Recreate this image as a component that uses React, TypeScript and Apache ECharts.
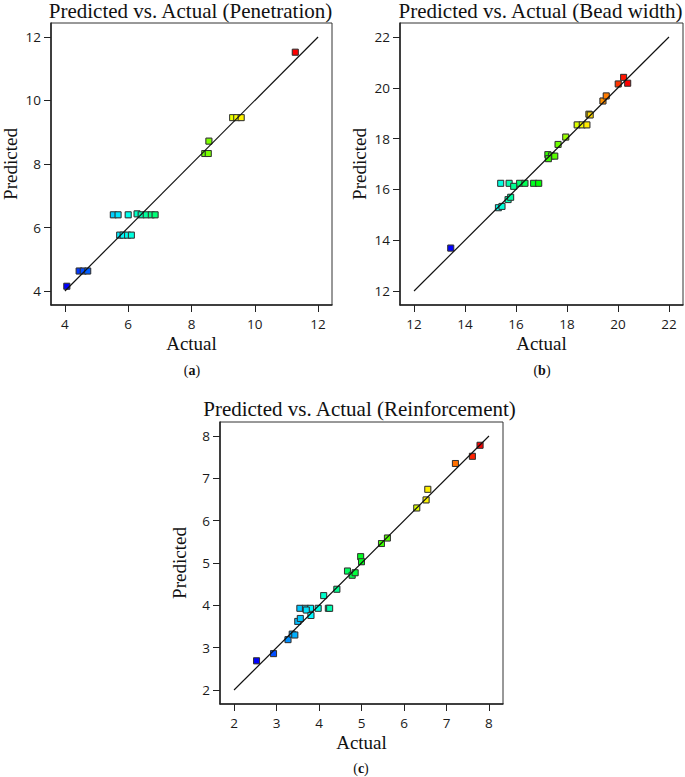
import React, { useEffect, useRef } from "react";
import * as echarts from "echarts";

// Penetration
const penActual = [11.28, 9.3, 9.43, 9.57, 8.55, 8.42, 8.53, 5.53, 5.68, 6.0, 6.28, 6.41, 6.57, 6.73, 6.85, 5.73, 5.84, 5.98, 6.1, 4.45, 4.58, 4.72, 4.06];
const penPred = [11.52, 9.46, 9.46, 9.46, 8.72, 8.33, 8.33, 6.4, 6.4, 6.4, 6.43, 6.4, 6.4, 6.4, 6.4, 5.76, 5.76, 5.76, 5.76, 4.63, 4.63, 4.63, 4.15];
const penTicks = [4, 6, 8, 10, 12];

// Bead width
const beadActual = [13.44, 15.4, 15.73, 16.14, 16.35, 16.69, 16.89, 15.91, 15.69, 15.79, 15.31, 15.45, 17.25, 17.39, 17.52, 17.27, 17.65, 17.95, 18.4, 18.6, 18.78, 18.86, 18.91, 19.41, 19.54, 20.01, 20.22, 20.38];
const beadPred = [13.69, 16.24, 16.24, 16.24, 16.24, 16.24, 16.24, 16.12, 15.6, 15.69, 15.28, 15.33, 17.37, 17.32, 17.31, 17.21, 17.77, 18.06, 18.54, 18.54, 18.54, 18.96, 18.93, 19.48, 19.68, 20.15, 20.41, 20.18];
const beadTicks = [12, 14, 16, 18, 20, 22];

// Reinforcement
const reinActual = [2.53, 2.93, 3.27, 3.37, 3.43, 3.5, 3.56, 3.55, 3.68, 3.8, 3.98, 4.22, 4.25, 3.7, 3.81, 4.11, 4.42, 4.67, 4.78, 4.85, 4.98, 5.0, 5.47, 5.61, 6.3, 6.52, 6.56, 7.21, 7.61, 7.79];
const reinPred = [2.69, 2.86, 3.19, 3.32, 3.3, 3.62, 3.69, 3.93, 3.93, 3.93, 3.93, 3.93, 3.93, 3.89, 3.76, 4.23, 4.38, 4.81, 4.71, 4.77, 5.15, 5.03, 5.46, 5.59, 6.3, 6.49, 6.74, 7.35, 7.52, 7.78];
const reinTicks = [2, 3, 4, 5, 6, 7, 8];

const titles = [
  "Predicted vs. Actual (Penetration)",
  "Predicted vs. Actual (Bead width)",
  "Predicted vs. Actual (Reinforcement)",
];
const captions = ["a", "b", "c"];

const RAINBOW = ["#0000ff", "#00ffff", "#00ff00", "#ffff00", "#ff0000"];
const SERIF = "'Liberation Serif', 'Times New Roman', serif";
const SANS = "'Open Sans', 'Noto Sans', sans-serif";

const grids = [
  { left: 49, top: 23, width: 283, height: 282 },
  { left: 400, top: 23, width: 283, height: 282 },
  { left: 220, top: 422, width: 283, height: 282 },
];

function axisCfg(ticks: number[], gridIndex: number, name: string, isY: boolean) {
  const lo = ticks[0];
  const hi = ticks[ticks.length - 1];
  const pad = (hi - lo) * 0.055;
  return {
    type: "value",
    gridIndex,
    min: lo - pad,
    max: hi + pad,
    name,
    nameLocation: "middle",
    nameGap: isY ? 31 : 29,
    nameTextStyle: { fontFamily: SERIF, fontSize: 19, lineHeight: 19, color: "#111" },
    axisLine: { show: true, onZero: false, lineStyle: { color: "#222", width: 1.5 } },
    axisTick: { show: true, customValues: ticks, length: 7, inside: false, lineStyle: { color: "#222", width: 1 } },
    axisLabel: {
      show: true,
      customValues: ticks,
      margin: isY ? 10 : 12,
      fontFamily: SANS,
      fontSize: 13.5,
      lineHeight: 14,
      color: "#1a1a1a",
    },
    splitLine: { show: false },
  };
}

export default function App() {
  const ref = useRef<HTMLDivElement>(null);
  useEffect(() => {
    if (!ref.current) return;
    const chart = echarts.init(ref.current, undefined, { renderer: "svg" });
    const sets = [
      { a: penActual, p: penPred, t: penTicks },
      { a: beadActual, p: beadPred, t: beadTicks },
      { a: reinActual, p: reinPred, t: reinTicks },
    ];
    const scatterSeries = sets.map((s, i) => ({
      type: "scatter",
      xAxisIndex: i,
      yAxisIndex: i,
      symbol: "rect",
      symbolSize: 6,
      itemStyle: { opacity: 1, borderColor: "#333", borderWidth: 1, shadowColor: "rgba(0,0,0,0.35)", shadowBlur: 1.5 },
      data: s.a.map((v, k) => [v, s.p[k]]),
      z: 2,
    }));
    const lineSeries = sets.map((s, i) => ({
      type: "line",
      xAxisIndex: i,
      yAxisIndex: i,
      showSymbol: false,
      silent: true,
      lineStyle: { color: "#111", width: 1.2 },
      data: [
        [s.t[0], s.t[0]],
        [s.t[s.t.length - 1], s.t[s.t.length - 1]],
      ],
      z: 3,
    }));
    const visualMaps = sets.map((s, i) => ({
      type: "continuous",
      show: false,
      seriesIndex: i,
      dimension: 0,
      min: Math.min(...s.a),
      max: Math.max(...s.a),
      inRange: { color: RAINBOW, opacity: 1 },
    }));
    const titleCenters = [
      [190.5, 11],
      [540.5, 11],
      [359.5, 409],
    ];
    const capCenters = [
      [192, 370],
      [542, 370],
      [361, 768],
    ];
    const graphics: any[] = [];
    titles.forEach((t, i) => {
      graphics.push({
        type: "text",
        x: titleCenters[i][0],
        y: titleCenters[i][1],
        style: {
          text: t,
          font: `21px ${SERIF}`,
          fill: "#111",
          textAlign: "center",
          textVerticalAlign: "middle",
        },
      });
    });
    captions.forEach((c, i) => {
      graphics.push({
        type: "text",
        x: capCenters[i][0],
        y: capCenters[i][1],
        style: {
          text: `({b|${c}})`,
          font: `14px ${SERIF}`,
          fill: "#111",
          textAlign: "center",
          textVerticalAlign: "middle",
          rich: { b: { font: `bold 14px ${SERIF}`, fill: "#111" } },
        },
      });
    });
    chart.setOption({
      animation: false,
      backgroundColor: "#ffffff",
      grid: grids.map((g) => ({ ...g, show: true, borderColor: "#333", borderWidth: 1, backgroundColor: "transparent", containLabel: false })),
      xAxis: sets.map((s, i) => axisCfg(s.t, i, "Actual", false)),
      yAxis: sets.map((s, i) => axisCfg(s.t, i, "Predicted", true)),
      visualMap: visualMaps,
      series: [...scatterSeries, ...lineSeries],
      graphic: graphics,
    });
    return () => chart.dispose();
  }, []);
  return <div ref={ref} style={{ position: "absolute", left: 0, top: 0, width: 685, height: 777 }} />;
}
